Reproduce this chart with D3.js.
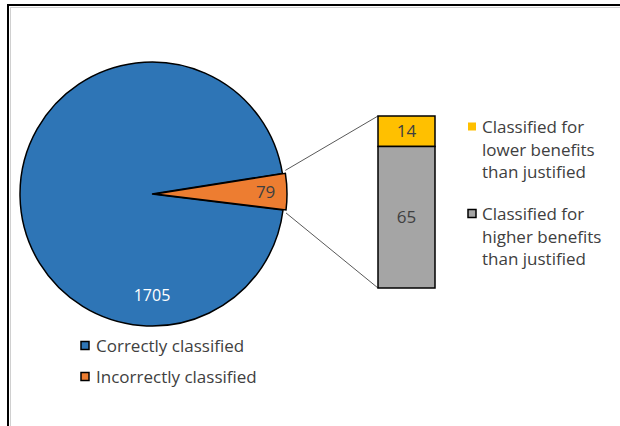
<!DOCTYPE html>
<html><head><meta charset="utf-8">
<script src="https://cdn.jsdelivr.net/npm/d3@7"></script>
<style>body{margin:0;background:#fff}svg{display:block}text{font-family:"Open Sans","Liberation Sans",Arial,sans-serif;}</style>
</head><body><svg id="c" width="620" height="426"></svg>
<script>
const pieCategories = ["Correctly classified", "Incorrectly classified"];
const pieValues = [1705, 79];
const pieColors = ["#2E75B6", "#ED7D31"];
const barCategories = ["Classified for lower benefits than justified", "Classified for higher benefits than justified"];
const barLegendLines = [["Classified for","lower benefits","than justified"],["Classified for","higher benefits","than justified"]];
const barValues = [14, 65];
const barColors = ["#FFC000", "#A5A5A5"];

const FS = 17;
const svg = d3.select("#c");
// frame
svg.append("rect").attr("x",8).attr("y",5).attr("width",700).attr("height",500)
  .attr("fill","none").attr("stroke","#000").attr("stroke-width",2);
svg.append("line").attr("x1",10.5).attr("y1",7).attr("x2",10.5).attr("y2",426).attr("stroke","#d0d0d0");
svg.append("line").attr("x1",10).attr("y1",7.5).attr("x2",620).attr("y2",7.5).attr("stroke","#d0d0d0");

const cx = 152, cy = 194, R = 132;
const total = d3.sum(pieValues);
const smallAngle = pieValues[1] / total * 2 * Math.PI;
const mid = 89 * Math.PI / 180;
const start = mid + smallAngle / 2;  // blue starts right after orange
const pie = d3.pie().sort(null).value(d => d).startAngle(start).endAngle(start + 2 * Math.PI);
const arcs = pie(pieValues);
const arc = d3.arc().innerRadius(0).outerRadius(R);
const g = svg.append("g").attr("transform", `translate(${cx},${cy})`);
const explode = 3;
g.selectAll("path.slice").data(arcs).enter().append("path")
  .attr("class","slice")
  .attr("d", arc)
  .attr("transform", (d,i) => {
    if (i === 0) return null;
    const a = (d.startAngle + d.endAngle) / 2;
    return `translate(${explode*Math.sin(a)},${-explode*Math.cos(a)})`;
  })
  .attr("fill", (d,i) => pieColors[i])
  .attr("stroke", "#000").attr("stroke-width", 1.5).attr("stroke-linejoin","miter");

// labels
const lab1 = d3.arc().innerRadius(R*0.77).outerRadius(R*0.77);
svg.append("text").attr("x", cx).attr("y", 301).attr("text-anchor","middle")
  .attr("font-size",FS-1).attr("fill","#fff").text(pieValues[0]);
{
  const c = lab1.centroid(arcs[1]);
  svg.append("text").attr("x", cx + c[0] + 12).attr("y", cy + c[1] + 6).attr("text-anchor","middle")
    .attr("font-size",FS).attr("fill","#404040").text(pieValues[1]);
}

// bar
const barX = 378, barW = 57, barTop = 116, barBottom = 288;
const y = d3.scaleLinear().domain([0, d3.sum(barValues)]).range([barTop, barBottom]);
let acc = 0;
const stacks = barValues.map(v => { const s = {y0: acc, y1: acc + v, v}; acc += v; return s; });
// connectors
const a0 = arcs[1].startAngle, a1 = arcs[1].endAngle;
const ex = explode*Math.sin(mid), ey = -explode*Math.cos(mid);
svg.append("line").attr("x1", cx + ex + R*Math.sin(a0)).attr("y1", cy + ey - R*Math.cos(a0) - 3)
  .attr("x2", barX).attr("y2", barTop).attr("stroke","#595959").attr("stroke-width",1);
svg.append("line").attr("x1", cx + ex + R*Math.sin(a1)).attr("y1", cy + ey - R*Math.cos(a1) + 3)
  .attr("x2", barX).attr("y2", barBottom).attr("stroke","#595959").attr("stroke-width",1);

svg.selectAll("rect.bar").data(stacks).enter().append("rect").attr("class","bar")
  .attr("x", barX).attr("width", barW)
  .attr("y", d => y(d.y0)).attr("height", d => y(d.y1) - y(d.y0))
  .attr("fill", (d,i) => barColors[i]).attr("stroke","#000").attr("stroke-width",1.5);
svg.selectAll("text.barlab").data(stacks).enter().append("text").attr("class","barlab")
  .attr("x", barX + barW/2).attr("y", d => (y(d.y0)+y(d.y1))/2 + 6)
  .attr("text-anchor","middle").attr("font-size",FS).attr("fill","#404040").text(d => d.v);

// right legend
const rl = svg.append("g");
barLegendLines.forEach((lines, i) => {
  const top = [127, 214][i];
  rl.append("rect").attr("x", 468).attr("y", top - 4.5).attr("width", 8).attr("height", 8)
    .attr("fill", barColors[i]).attr("stroke", i === 1 ? "#000" : "none").attr("stroke-width", 1.5);
  lines.forEach((t, j) => {
    rl.append("text").attr("x", 482).attr("y", top + 6 + j*22.7).attr("font-size", FS)
      .attr("fill","#404040").text(t);
  });
});

// bottom legend
pieCategories.forEach((t, i) => {
  const yc = 346 + i*31;
  svg.append("rect").attr("x", 81).attr("y", yc - 4.5).attr("width", 8).attr("height", 8)
    .attr("fill", pieColors[i]).attr("stroke","#000").attr("stroke-width",1.5);
  svg.append("text").attr("x", 96).attr("y", yc + 6).attr("font-size",FS).attr("fill","#404040").text(t);
});
</script></body></html>
